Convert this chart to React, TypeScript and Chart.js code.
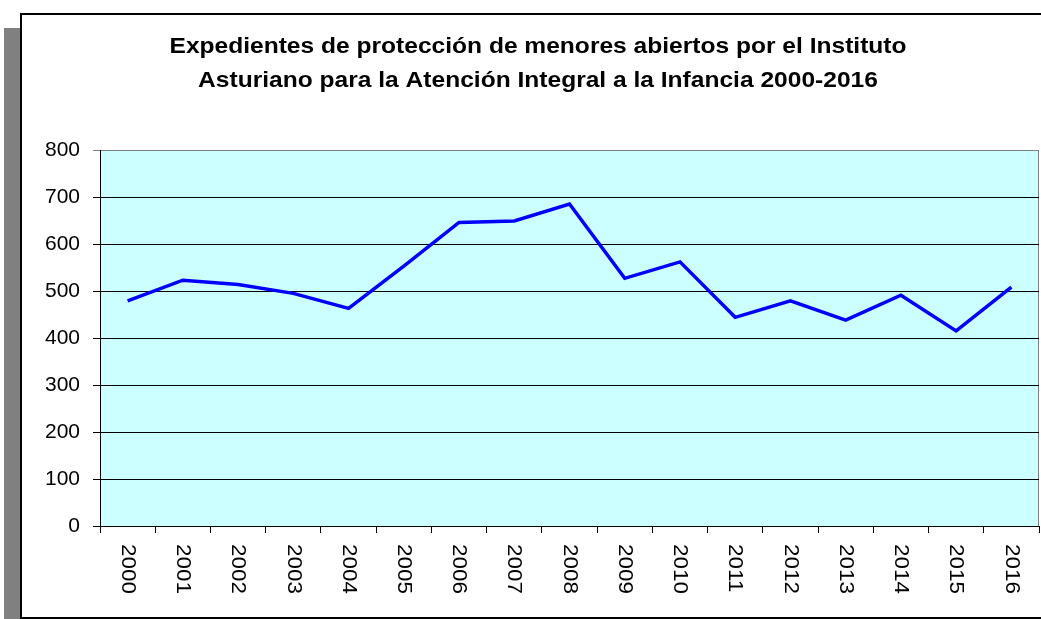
import { useEffect, useRef } from "react";
import { Chart, registerables } from "chart.js";

Chart.register(...registerables);

const years = ["2000", "2001", "2002", "2003", "2004", "2005", "2006", "2007", "2008", "2009", "2010", "2011", "2012", "2013", "2014", "2015", "2016"];
const expedientes = [479, 523, 514, 495, 463, 553, 646, 649, 685, 527, 562, 444, 479, 438, 491, 415, 508];
const yMin = 0;
const yMax = 800;
const yStep = 100;
const titleLines = [
  "Expedientes de protección de menores abiertos por el Instituto",
  "Asturiano para la Atención Integral a la Infancia 2000-2016",
];

const FONT = '"Liberation Sans", Arial, sans-serif';

const framePlugin = {
  id: "frame",
  beforeDraw(chart: any) {
    const { ctx, chartArea } = chart;
    ctx.save();
    ctx.fillStyle = "#ffffff";
    ctx.fillRect(0, 0, chart.width, chart.height);
    // grey shadow block on the left
    ctx.fillStyle = "#808080";
    ctx.fillRect(4, 28, 16, chart.height - 28);
    // black outer frame
    ctx.strokeStyle = "#000000";
    ctx.lineWidth = 2;
    ctx.strokeRect(21, 14, chart.width + 20, 604);
    // plot background
    ctx.fillStyle = "#CCFFFF";
    ctx.fillRect(chartArea.left, chartArea.top, chartArea.right - chartArea.left, chartArea.bottom - chartArea.top);
    // plot border (grey)
    ctx.strokeStyle = "#808080";
    ctx.lineWidth = 1;
    ctx.beginPath();
    ctx.moveTo(chartArea.left, chartArea.top + 0.5);
    ctx.lineTo(chartArea.right - 0.5, chartArea.top + 0.5);
    ctx.lineTo(chartArea.right - 0.5, chartArea.bottom);
    ctx.stroke();
    // title
    ctx.fillStyle = "#000000";
    ctx.font = `bold 22px ${FONT}`;
    ctx.textBaseline = "alphabetic";
    ctx.textAlign = "center";
    const w1 = ctx.measureText(titleLines[0]).width;
    const sx = 737 / w1;
    const cx = 538;
    const baselines = [53, 87];
    titleLines.forEach((line, i) => {
      ctx.save();
      ctx.translate(cx, baselines[i]);
      ctx.scale(sx, 1);
      ctx.fillText(line, 0, 0);
      ctx.restore();
    });
    ctx.restore();
  },
  afterDraw(chart: any) {
    const { ctx } = chart;
    const xScale = chart.scales.x;
    ctx.save();
    ctx.fillStyle = "#000000";
    ctx.font = `21px ${FONT}`;
    ctx.textAlign = "left";
    ctx.textBaseline = "middle";
    const sx = 50 / ctx.measureText("2000").width;
    years.forEach((label, i) => {
      const x = xScale.getPixelForValue(i);
      ctx.save();
      ctx.translate(x, 544);
      ctx.rotate(Math.PI / 2);
      ctx.scale(sx, 1);
      ctx.fillText(label, 0, 0);
      ctx.restore();
    });
    ctx.restore();
  },
};

export default function App() {
  const canvasRef = useRef<HTMLCanvasElement | null>(null);

  useEffect(() => {
    const canvas = canvasRef.current;
    if (!canvas) return;
    const chart = new Chart(canvas, {
      type: "line",
      data: {
        labels: years,
        datasets: [
          {
            label: "Expedientes",
            data: expedientes,
            borderColor: "#0000FF",
            backgroundColor: "#0000FF",
            borderWidth: 3.5,
            pointRadius: 0,
            pointHoverRadius: 0,
            tension: 0,
            fill: false,
          },
        ],
      },
      options: {
        responsive: false,
        animation: false,
        events: [],
        layout: { padding: { left: 0, top: 150, right: 2, bottom: 23 } },
        plugins: {
          legend: { display: false },
          title: { display: false },
          tooltip: { enabled: false },
        },
        scales: {
          x: {
            type: "category",
            offset: true,
            grid: {
              offset: true,
              drawOnChartArea: false,
              drawTicks: true,
              tickLength: 7,
              color: "#000000",
            },
            border: { display: true, color: "#000000", width: 1 },
            ticks: { display: false },
            afterFit: (s: any) => {
              s.height = 70;
            },
          },
          y: {
            min: yMin,
            max: yMax,
            ticks: {
              stepSize: yStep,
              color: "#000000",
              padding: 13,
              font: { family: FONT, size: 21 },
            },
            grid: {
              color: (c: any) => (c.tick && c.tick.value === yMax ? "#808080" : "#000000"),
              tickLength: 7,
              drawTicks: true,
              lineWidth: 1,
            },
            border: { display: true, color: "#000000", width: 1 },
            afterFit: (s: any) => {
              s.width = 100;
            },
          },
        },
      },
      plugins: [framePlugin],
    });
    return () => chart.destroy();
  }, []);

  return (
    <div style={{ position: "absolute", left: 0, top: 0, width: 1041, height: 619 }}>
      <canvas ref={canvasRef} width={1041} height={619} style={{ display: "block" }} />
    </div>
  );
}
